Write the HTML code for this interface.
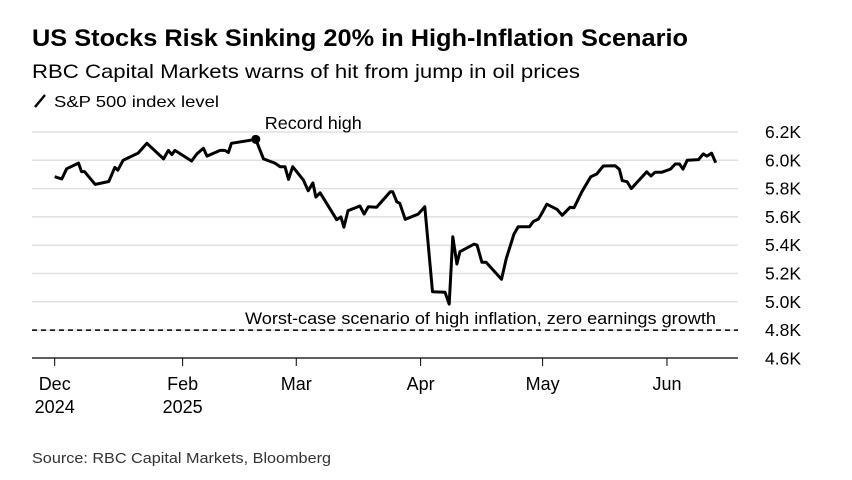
<!DOCTYPE html>
<html><head><meta charset="utf-8"><style>
body{margin:0;background:#fff;font-family:"Liberation Sans",Arial,sans-serif;}
svg text{font-family:"Liberation Sans",Arial,sans-serif;}
</style></head><body>
<svg width="852" height="475" xmlns="http://www.w3.org/2000/svg">
<text x="32" y="46" font-size="24" font-weight="bold" fill="#000" textLength="656" lengthAdjust="spacingAndGlyphs">US Stocks Risk Sinking 20% in High-Inflation Scenario</text>
<text x="32" y="78" font-size="19.5" fill="#000" textLength="548" lengthAdjust="spacingAndGlyphs">RBC Capital Markets warns of hit from jump in oil prices</text>
<line x1="35" y1="107" x2="45" y2="95" stroke="#000" stroke-width="2.5"/>
<text x="54" y="107" font-size="16" fill="#000" textLength="165" lengthAdjust="spacingAndGlyphs">S&amp;P 500 index level</text>
<g id="grid"></g><g id="xaxis"></g><g id="series"></g>
<text x="32" y="463" font-size="15" fill="#333" textLength="299" lengthAdjust="spacingAndGlyphs">Source: RBC Capital Markets, Bloomberg</text>
</svg>
<script>
const days=[0,1.2,2,4,4.5,5,6.8,9.1,10.1,10.6,11.5,14,15.5,18.3,19.1,19.7,20.2,23,23.9,25,25.6,27.8,28.6,29.2,29.7,33.8,35.1,37,37.9,38.7,39.3,40,41.8,42.6,43.4,43.9,44.6,47.4,48.1,48.6,49.3,51.3,52,52.7,54.1,56.4,56.8,57.5,58,58.9,61.1,62.2,63.5,65.6,66.3,66.9,67.6,68.1,70.5,71,71.8,72.5,75.1,75.9,77.2,77.9,79.8,80.4,81.3,81.8,82.7,84.4,85.3,86.6,87.3,88.6,90.1,91.1,92.2,94.2,94.9,95.4,96.2,96.9,99.5,100.2,100.9,102,103.5,104.3,105,105.6,106.3,108.2,109,109.6,110.4,111.1];
const values=[5.884,5.868,5.94,5.98,5.92,5.92,5.83,5.85,5.95,5.93,6.0,6.05,6.12,6.01,6.07,6.04,6.07,5.995,6.045,6.085,6.03,6.07,6.07,6.055,6.12,6.148,6.01,5.98,5.955,5.955,5.865,5.955,5.86,5.785,5.84,5.74,5.77,5.58,5.6,5.527,5.644,5.677,5.62,5.672,5.668,5.778,5.778,5.707,5.696,5.583,5.62,5.672,5.071,5.067,4.984,5.46,5.267,5.354,5.408,5.4,5.279,5.279,5.159,5.307,5.479,5.531,5.531,5.566,5.585,5.62,5.69,5.654,5.611,5.668,5.665,5.778,5.884,5.903,5.96,5.962,5.936,5.856,5.849,5.8,5.919,5.889,5.915,5.915,5.938,5.974,5.974,5.938,6.0,6.005,6.045,6.03,6.05,5.983];
const yTicks=[6.2,6.0,5.8,5.6,5.4,5.2,5.0,4.8,4.6];
const yTickLabels=["6.2K","6.0K","5.8K","5.6K","5.4K","5.2K","5.0K","4.8K","4.6K"];
const xTicks=[0,21.5,40.6,61.5,82,102.9];
const xTickLabels=[["Dec","2024"],["Feb","2025"],["Mar",""],["Apr",""],["May",""],["Jun",""]];
const worstCase=4.8;
const recordIdx=25;
const NS="http://www.w3.org/2000/svg";
const X=d=>54.7+d*5.95;
const Y=v=>132+(6.2-v)*141.5;
function mk(tag,attrs,parent,txt){const e=document.createElementNS(NS,tag);for(const k in attrs)e.setAttribute(k,attrs[k]);if(txt!==undefined)e.textContent=txt;parent.appendChild(e);return e;}
const grid=document.getElementById('grid');
yTicks.forEach((t,i)=>{
  if(t>4.6){const l=mk('line',{x1:32,x2:738,y1:Y(t),y2:Y(t),stroke:'#e0e0e0','stroke-width':1.5},grid);
  
  }
  const tx=mk('text',{x:801,y:Y(t)+6,'font-size':17.5,'text-anchor':'end',fill:'#000'},grid,yTickLabels[i]);
  
  
});
const xa=document.getElementById('xaxis');
const ax=mk('line',{x1:32,x2:738,y1:358,y2:358,stroke:'#000','stroke-width':1.2},xa);


xTicks.forEach((d,i)=>{
  const tk=mk('line',{x1:X(d),x2:X(d),y1:358,y2:366,stroke:'#000','stroke-width':1},xa);
  
  
  const t1=mk('text',{x:X(d),y:390,'font-size':18,'text-anchor':'middle',fill:'#000'},xa,xTickLabels[i][0]);
  
  
  if(xTickLabels[i][1]){const t2=mk('text',{x:X(d),y:413,'font-size':18,'text-anchor':'middle',fill:'#000'},xa,xTickLabels[i][1]);
  
  }
});
const s=document.getElementById('series');
const wc=mk('line',{x1:32,x2:738,y1:Y(worstCase),y2:Y(worstCase),stroke:'#000','stroke-width':1.5,'stroke-dasharray':'5,4'},s);


const wt=mk('text',{x:245,y:Y(worstCase)-6,'font-size':17,textLength:471,lengthAdjust:'spacingAndGlyphs',fill:'#000'},s,'Worst-case scenario of high inflation, zero earnings growth');


const p=mk('polyline',{points:days.map((d,i)=>X(d).toFixed(1)+','+Y(values[i]).toFixed(1)).join(' '),fill:'none',stroke:'#000','stroke-width':3,'stroke-linejoin':'round'},s);


const dot=mk('circle',{cx:X(days[recordIdx]),cy:Y(values[recordIdx]),r:4.5,fill:'#000'},s);


const rt=mk('text',{x:X(days[recordIdx])+9,y:129,'font-size':17.5,textLength:97,lengthAdjust:'spacingAndGlyphs',fill:'#000'},s,'Record high');


</script>
</body></html>
